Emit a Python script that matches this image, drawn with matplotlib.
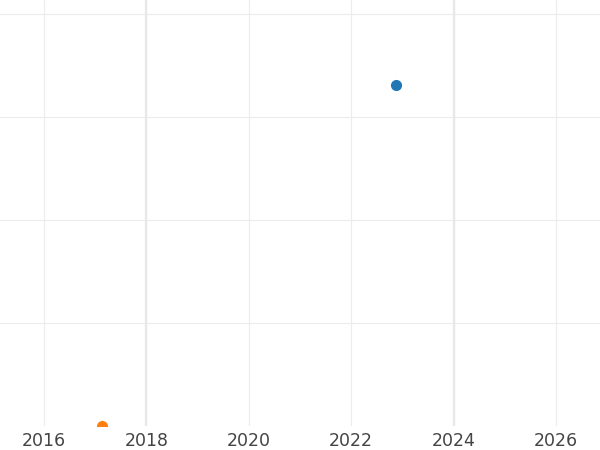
import numpy as np
import matplotlib.pyplot as plt

# data
series_names = ['A', 'B']
x_vals = [2022.875, 2017.13]
y_vals = [3.31, 0.0]
colors = ['#1f77b4', '#ff7f0e']
year_ticks = [2016, 2018, 2020, 2022, 2024, 2026]
strong_years = [2018, 2024]

fig = plt.figure(figsize=(6, 4.5), dpi=100)
ax = fig.add_axes([0, 1 - 426 / 450, 1, 426 / 450])

for x, y, c in zip(x_vals, y_vals, colors):
    ax.plot([x], [y], 'o', color=c, markersize=7, zorder=3)

ax.set_xlim(2015.14, 2026.86)
ax.set_ylim(0, 4.14)
ax.set_xticks(year_ticks)
ax.set_yticks([1, 2, 3, 4])
ax.set_yticklabels([])
ax.grid(True, color='#ececec', linewidth=0.8)
for yr in strong_years:
    ax.axvline(yr, color='#e8e8e8', linewidth=1.6, zorder=1)
ax.set_axisbelow(True)
for s in ax.spines.values():
    s.set_visible(False)
ax.tick_params(length=0, labelsize=12.5, labelcolor='#444444', pad=4.5)
ax.tick_params(axis='y', left=False, labelleft=False)

fig.savefig('out.png', dpi=100)
